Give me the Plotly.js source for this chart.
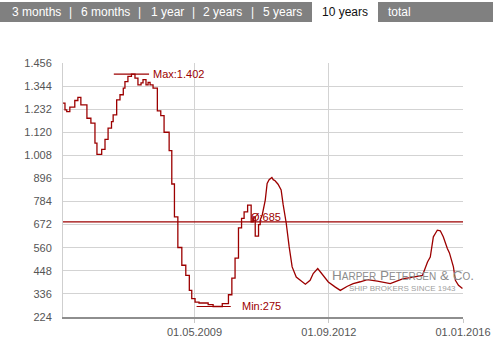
<!DOCTYPE html>
<html>
<head>
<meta charset="utf-8">
<script src="https://cdn.plot.ly/plotly-3.0.1.min.js"></script>
<style>html,body{margin:0;padding:0;background:#fff;}#chart{width:495px;height:357px;}</style>
</head>
<body>
<div id="chart"></div>
<script>
// ---- data ----
const stepDates = [
 '2006-01-24','2006-02-11','2006-02-27','2006-03-27','2006-05-11','2006-06-08','2006-07-05','2006-08-29',
 '2006-10-04','2006-11-10','2006-11-28','2007-01-10','2007-02-09','2007-03-09','2007-04-09','2007-04-24',
 '2007-05-26','2007-06-25','2007-07-25','2007-08-09','2007-09-05','2007-10-07','2007-11-08','2007-12-05',
 '2008-01-02','2008-01-20','2008-02-16','2008-03-06','2008-03-24','2008-04-20','2008-05-29','2008-06-29',
 '2008-07-29','2008-09-13','2008-10-07','2008-10-31','2008-12-01','2009-01-06','2009-02-11','2009-03-15',
 '2009-04-06','2009-05-06','2009-06-11','2009-09-02','2009-10-17','2010-01-08','2010-03-05','2010-04-05',
 '2010-05-04','2010-06-04','2010-07-02','2010-07-25','2010-08-26','2010-09-27','2010-10-15','2010-11-03',
 '2010-12-03','2010-12-18'
];
const stepValues = [
 1261,1229,1220,1242,1274,1289,1253,1188,
 1164,1067,1013,1037,1086,1140,1172,1204,
 1277,1302,1334,1366,1391,1402,1383,1350,
 1360,1375,1350,1362,1350,1334,1224,1201,
 1120,1031,869,710,561,475,426,353,
 313,296,292,284,275,289,332,413,
 510,656,702,734,767,685,710,616,
 672,694
];
const smoothDates = [
 '2011-01-06','2011-02-02','2011-02-19','2011-03-09','2011-04-03','2011-04-15','2011-05-02','2011-05-29',
 '2011-06-26','2011-07-14','2011-08-11','2011-09-07','2011-10-04','2011-11-10','2011-12-16','2012-02-01',
 '2012-03-15','2012-04-12','2012-05-23','2012-07-03','2012-08-27','2012-10-30','2012-12-14','2013-02-16',
 '2013-04-10','2013-06-13','2013-08-16','2013-11-15','2014-03-12','2014-05-15','2014-07-08','2014-09-11',
 '2014-11-13','2014-12-29','2015-01-16','2015-02-13','2015-03-10','2015-04-07','2015-04-25','2015-05-13',
 '2015-06-09','2015-07-06','2015-08-12','2015-08-31','2015-10-06','2015-10-24','2015-11-21','2015-12-27'
];
const smoothValues = [
 720,791,872,890,901,890,885,868,
 840,770,680,564,467,418,402,383,
 402,435,459,431,394,369,353,373,
 386,395,405,398,386,399,410,415,
 421,426,451,491,515,613,629,645,
 642,613,556,535,467,402,378,362
];
const averageValue = 685;
const yTickVals = [224,336,448,560,672,784,896,1008,1120,1232,1344,1456];
const yTickText = ['224','336','448','560','672','784','896','1.008','1.120','1.232','1.344','1.456'];
const xTickVals = ['2009-05-01','2012-09-01','2016-01-01'];
const xTickText = ['01.05.2009','01.09.2012','01.01.2016'];
const tabLabels = ['3 months','6 months','1 year','2 years','5 years','10 years','total'];

// ---- layout helpers ----
const L = 63, T = 63, W = 400, H = 254;
const px = x => (x - L) / W;
const py = y => (T + H - y) / H;
const shiftDate = (d, days) => new Date(new Date(d + 'T00:00:00Z').getTime() + days * 864e5).toISOString().slice(0, 10);
const fmt = v => String(v).replace(/\B(?=(\d{3})+(?!\d))/g, '.');

const red = '#9c0000';
const maxV = Math.max(...stepValues, ...smoothValues);
const minV = Math.min(...stepValues, ...smoothValues);
const maxD = stepDates[stepValues.indexOf(maxV)];
const minD = stepDates[stepValues.indexOf(minV)];

const traces = [
 {x: stepDates, y: stepValues, mode: 'lines', line: {color: red, width: 1.3, shape: 'hv'}, hoverinfo: 'skip'},
 {x: [stepDates[stepDates.length - 1]].concat(smoothDates), y: [stepValues[stepValues.length - 1]].concat(smoothValues),
  mode: 'lines', line: {color: red, width: 1.3}, hoverinfo: 'skip'},
 {x: [shiftDate(maxD, -160), shiftDate(maxD, 160)], y: [maxV, maxV], mode: 'lines', line: {color: red, width: 1.2}, hoverinfo: 'skip'},
 {x: [shiftDate(minD, -150), shiftDate(minD, 160)], y: [minV, minV], mode: 'lines', line: {color: red, width: 1.2}, hoverinfo: 'skip'},
 {x: [stepDates[0], xTickVals[2]], y: [averageValue, averageValue], mode: 'lines', line: {color: red, width: 1.2}, hoverinfo: 'skip'}
];

const shapes = [
 {type: 'rect', xref: 'paper', yref: 'paper', x0: px(0), x1: px(493), y0: py(22), y1: py(2), fillcolor: '#808080', line: {width: 0}, layer: 'above'},
 {type: 'rect', xref: 'paper', yref: 'paper', x0: px(312), x1: px(378), y0: py(23), y1: py(2), fillcolor: '#ffffff', line: {width: 0}, layer: 'above'}
];

const tabCenters = [36, 105, 167, 222, 282, 345, 399];
const sepX = [70.5, 139.5, 193, 252];
const annotations = [];
tabLabels.forEach((t, i) => annotations.push({
 text: t, xref: 'paper', yref: 'paper', x: px(tabCenters[i]), y: py(12.5), xanchor: 'center', yanchor: 'middle',
 showarrow: false, font: {size: 12, color: i === 5 ? '#111' : '#ffffff', family: 'Liberation Sans, Arial, sans-serif'}
}));
sepX.forEach(s => annotations.push({
 text: '|', xref: 'paper', yref: 'paper', x: px(s), y: py(12.5), xanchor: 'center', yanchor: 'middle',
 showarrow: false, font: {size: 12, color: '#ffffff', family: 'Liberation Sans, Arial, sans-serif'}
}));
annotations.push(
 {text: 'Max:' + fmt(maxV), x: shiftDate(maxD, 180), y: maxV, xanchor: 'left', yanchor: 'middle', showarrow: false,
  font: {size: 11, color: red}},
 {text: 'Min:' + fmt(minV), x: shiftDate(minD, 240), y: minV, xanchor: 'left', yanchor: 'middle', showarrow: false,
  font: {size: 11, color: red}},
 {text: 'Ø:' + fmt(averageValue), xref: 'paper', x: px(249), y: averageValue, xanchor: 'left', yanchor: 'bottom', showarrow: false,
  font: {size: 11, color: red}, yshift: -3},
 {text: "H<span style='font-size:10px'>ARPER</span> P<span style='font-size:10px'>ETERSEN</span> &amp; C<span style='font-size:10px'>O</span>.",
  xref: 'paper', yref: 'paper', x: px(330), y: py(275), xanchor: 'left', yanchor: 'middle', showarrow: false,
  font: {size: 13.5, color: '#8c8c8c', family: 'Liberation Sans, Arial, sans-serif'}},
 {text: 'SHIP BROKERS SINCE 1943', xref: 'paper', yref: 'paper', x: px(402), y: py(288), xanchor: 'center', yanchor: 'middle', showarrow: false,
  font: {size: 8, color: '#a0a0a0', family: 'Liberation Sans, Arial, sans-serif'}}
);

const layout = {
 width: 495, height: 357,
 margin: {l: L, r: 495 - L - W, t: T, b: 357 - T - H},
 paper_bgcolor: '#ffffff', plot_bgcolor: '#ffffff',
 showlegend: false,
 font: {family: 'Liberation Sans, Arial, sans-serif', size: 11, color: '#555'},
 xaxis: {type: 'date', range: [stepDates[0], xTickVals[2]], tickmode: 'array', tickvals: xTickVals, ticktext: xTickText,
  showgrid: true, gridcolor: '#d3d3d3', gridwidth: 1, zeroline: false,
  showline: true, linecolor: '#8e8e8e', linewidth: 2, ticks: 'outside', ticklen: 4, tickcolor: '#c8c8c8',
  tickfont: {size: 11, color: '#555'}, fixedrange: true},
 yaxis: {range: [224, 1456], tickmode: 'array', tickvals: yTickVals, ticktext: yTickText,
  showgrid: true, gridcolor: '#d3d3d3', gridwidth: 1, zeroline: false,
  showline: true, linecolor: '#cfcfcf', linewidth: 1, ticks: '', ticklabelstandoff: 8,
  tickfont: {size: 11, color: '#555'}, fixedrange: true},
 shapes: shapes,
 annotations: annotations
};

Plotly.newPlot('chart', traces, layout, {displayModeBar: false, staticPlot: true});
</script>
</body>
</html>
